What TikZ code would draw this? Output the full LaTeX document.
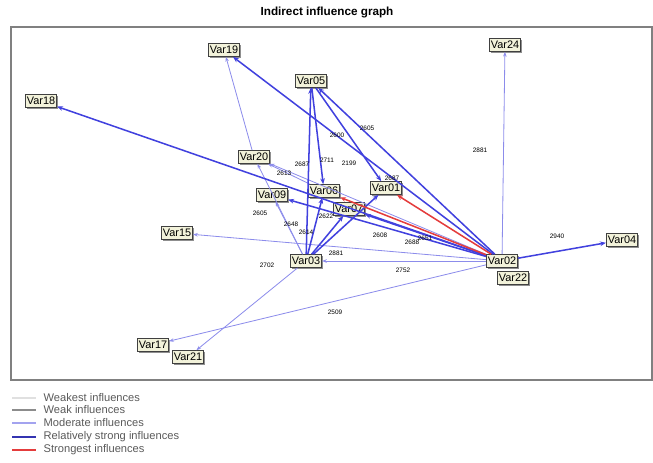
\documentclass[tikz,border=0pt]{standalone}
\usepackage{fontspec}
\setsansfont{Liberation Sans}
\usepackage{tikz}
\usetikzlibrary{arrows.meta, shadows}
\definecolor{modcol}{RGB}{140,140,235}
\definecolor{strcol}{RGB}{65,65,222}
\definecolor{redcol}{RGB}{228,60,60}
\definecolor{boxcol}{RGB}{242,242,218}
\begin{document}
\begin{tikzpicture}[
                x=0.03cm, y=-0.03cm,
                V/.style = {rectangle, draw=black!75, fill=boxcol, line width=0.7pt,
                            inner sep=1.3pt, minimum height=11pt,
                            font=\sffamily\fontsize{9.3}{10}\selectfont,
                            drop shadow={shadow xshift=1.4pt, shadow yshift=-1.4pt, fill=black!55, opacity=0.8}},
                lbl/.style = {font=\sffamily\fontsize{5.5}{6}\selectfont, inner sep=0.5pt},
                mod/.style = {draw=modcol, line width=0.7pt, -{Stealth[length=4pt,width=3pt]}},
                str/.style = {draw=strcol, line width=1.3pt, -{Stealth[length=5pt,width=4pt]}},
                top/.style = {draw=redcol, line width=1.3pt, -{Stealth[length=5pt,width=4pt]}},
                key/.style = {line width=1.1pt}
                    ]
                \useasboundingbox (0,0) rectangle (653,462);
                \node[font=\sffamily\bfseries\fontsize{10}{11}\selectfont] (title) at (327,12) {Indirect influence graph};
                \draw[black!50, line width=1pt] (11,27) rectangle (652,380);
                % variables
                \begin{scope}[nodes=V]
                \node (v19) at (224,50) {Var19};
                \node (v24) at (505,45) {Var24};
                \node (v05) at (311,81) {Var05};
                \node (v18) at (41,101) {Var18};
                \node (v20) at (254,157) {Var20};
                \node (v09) at (272,195) {Var09};
                \node (v06) at (324,191) {Var06};
                \node (v01) at (386,188) {Var01};
                \node (v07) at (349,209) {Var07};
                \node (v15) at (177,233) {Var15};
                \node (v03) at (306,261) {Var03};
                \node (v17) at (153,345) {Var17};
                \node (v21) at (188,357) {Var21};
                \node (v04) at (622,240) {Var04};
                \node (v22) at (513,278) {Var22};
                \node (v02) at (502,261) {Var02};
                \end{scope}
                % influences
                \draw[mod] (v02) to (v24);
                \draw[mod] (v02) to (v20);
                \draw[mod] (v02) to (v15);
                \draw[mod] (v02) to (v03);
                \draw[mod] (v02) to (v17);
                \draw[mod] (v03) to (v21);
                \draw[mod] (v20) to (v19);
                \draw[mod] (v03) to (v09);
                \draw[mod] (v03) to (v20);
                \draw[mod] (v06) to (v20);
                \draw[str] (v02) to (v04);
                \draw[str] (v02) to (v18);
                \draw[str] (v02) to (v19);
                \draw[str] (v02) to (v05);
                \draw[str] (v02) to (v09);
                \draw[str] (v02) to (v07);
                \draw[str] (v03) to (v05);
                \draw[str] (v03) to (v06);
                \draw[str] (v03) to (v07);
                \draw[str] (v03) to (v01);
                \draw[str] (v05) to (v06);
                \draw[str] (v05) to (v01);
                \draw[top] (v02) to (v01);
                \draw[top] (v02) to (v06);
                % values
                \node[lbl] (a1) at (480,150) {2881};
                \node[lbl] (a2) at (557,236) {2940};
                \node[lbl] (a3) at (367,128) {2605};
                \node[lbl] (a4) at (337,135) {2600};
                \node[lbl] (a5) at (327,160) {2711};
                \node[lbl] (a6) at (349,163) {2199};
                \node[lbl] (a7) at (302,164) {2687};
                \node[lbl] (a8) at (284,173) {2613};
                \node[lbl] (a9) at (392,178) {2687};
                \node[lbl] (a10) at (260,213) {2605};
                \node[lbl] (a11) at (291,224) {2648};
                \node[lbl] (a12) at (306,232) {2614};
                \node[lbl] (a13) at (326,216) {2622};
                \node[lbl] (a14) at (380,235) {2608};
                \node[lbl] (a15) at (412,242) {2688};
                \node[lbl] (a16) at (425,238) {2651};
                \node[lbl] (a17) at (336,253) {2881};
                \node[lbl] (a18) at (403,270) {2752};
                \node[lbl] (a19) at (267,265) {2702};
                \node[lbl] (a20) at (335,312) {2509};
                % legend
                \begin{scope}[every node/.style={anchor=west, font=\sffamily\fontsize{9.5}{10}\selectfont, text=black!65, inner sep=0pt}]
                \draw[key, black!12] (12,398) -- (36,398) node[right=6pt] (k1) {Weakest influences};
                \draw[key, black!45] (12,410) -- (36,410) node[right=6pt] (k2) {Weak influences};
                \draw[key, modcol!80] (12,423) -- (36,423) node[right=6pt] (k3) {Moderate influences};
                \draw[key, strcol!80!black] (12,437) -- (36,437) node[right=6pt] (k4) {Relatively strong influences};
                \draw[key, redcol] (12,450) -- (36,450) node[right=6pt] (k5) {Strongest influences};
                \end{scope}
            \end{tikzpicture}
\end{document}
